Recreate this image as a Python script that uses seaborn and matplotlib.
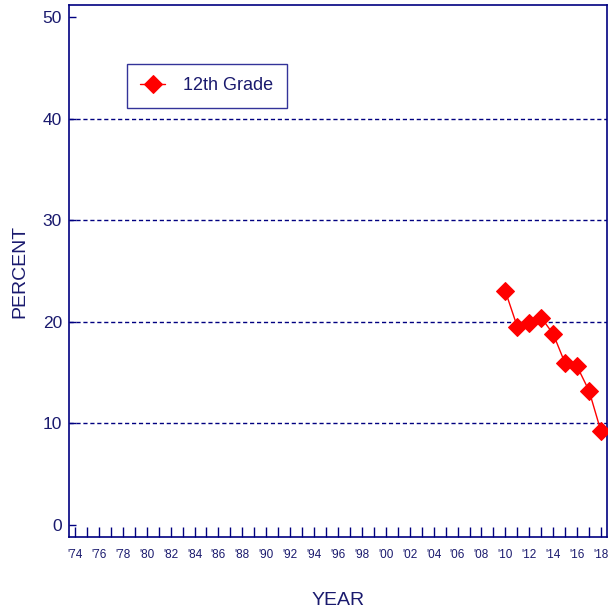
import matplotlib
matplotlib.use("Agg")
import matplotlib.pyplot as plt
import seaborn as sns
import pandas as pd

years = [2010, 2011, 2012, 2013, 2014, 2015, 2016, 2017, 2018]
percent = [23.0, 19.5, 19.9, 20.4, 18.8, 15.9, 15.6, 13.2, 9.2]
series_name = "12th Grade"
year_ticks = list(range(1974, 2019, 2))
y_ticks = [0, 10, 20, 30, 40, 50]

sns.set_style("white")
plt.rcParams['font.family'] = ['Liberation Sans', 'DejaVu Sans']

navy = "#000080"
textc = "#1a1a6e"

df = pd.DataFrame({"year": years, "percent": percent, "series": series_name})

fig = plt.figure(figsize=(6.13, 6.13), dpi=100)
ax = fig.add_axes([69/613, 1-537/613, (607-69)/613, (537-5)/613])

for yv in [10, 20, 30, 40]:
    ax.axhline(yv, color=navy, linestyle=(0, (3, 2)), linewidth=1.0, zorder=0)

sns.lineplot(data=df, x="year", y="percent", hue="series", palette=["#ff0000"],
             marker="D", markersize=9, linewidth=1.0, markeredgecolor="#ff0000",
             ax=ax, zorder=3)

ax.set_xlim(1973.5, 2018.5)
ax.set_ylim(-1.2, 51.2)
ax.set_xticks(list(range(1974, 2019)))
ax.set_xticklabels([("'" + str(y)[2:]) if y in year_ticks else "" for y in range(1974, 2019)])
ax.set_yticks(y_ticks)
ax.set_yticklabels([str(v) for v in y_ticks])
ax.tick_params(axis='x', bottom=True, direction='in', length=7, width=1, color=navy,
               labelcolor=textc, labelsize=8.5, pad=9)
ax.tick_params(axis='y', left=True, direction='in', length=5, width=1, color=navy,
               labelcolor=textc, labelsize=12.5, pad=5)
for s in ax.spines.values():
    s.set_color(navy)
    s.set_linewidth(1.2)
    s.set_visible(True)

ax.set_xlabel("YEAR", color=textc, fontsize=14, labelpad=22)
ax.set_ylabel("PERCENT", color=textc, fontsize=14, labelpad=10)

leg = ax.legend(loc="upper left", bbox_to_anchor=(0.107, 0.89), frameon=True, fancybox=False,
                fontsize=13, handlelength=1.4, borderpad=0.75, edgecolor=navy,
                labelcolor=textc, handletextpad=1.0, borderaxespad=0)
leg.get_frame().set_linewidth(1.0)
for h in leg.legend_handles:
    h.set_markersize(9)

fig.savefig("out.png", dpi=100)
